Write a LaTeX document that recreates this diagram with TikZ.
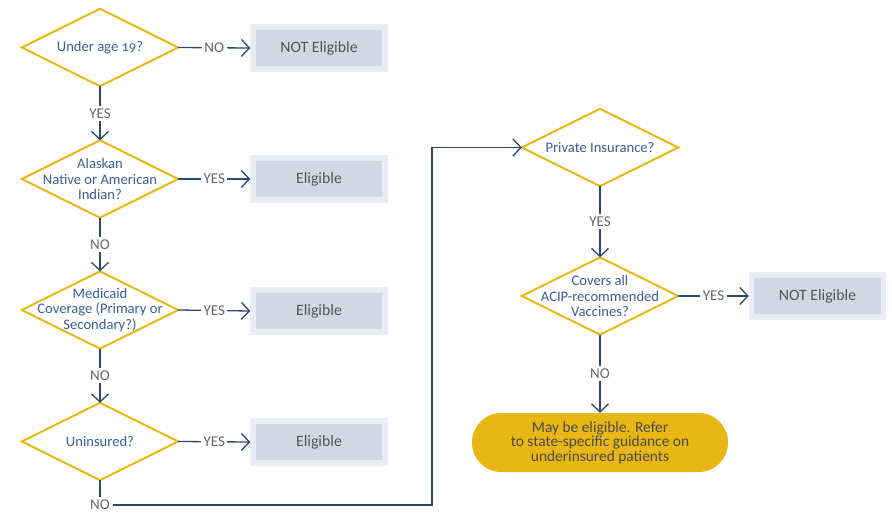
\documentclass[tikz,border=0pt]{standalone}
\usepackage{fontspec}
\setmainfont{Carlito}[Numbers=OldStyle]
\usetikzlibrary{arrows.meta}
\definecolor{gold}{HTML}{E8B714}
\definecolor{navy}{HTML}{2A4870}
\definecolor{qblue}{HTML}{3E5C94}
\definecolor{boxout}{HTML}{E9ECF4}
\definecolor{boxin}{HTML}{D1D8E4}
\definecolor{boxtxt}{HTML}{555555}
\definecolor{labtxt}{HTML}{666666}
\definecolor{pilltxt}{HTML}{4A4A4A}
\tikzset{
  decbox/.style={rectangle, minimum width=156pt, minimum height=77pt, inner sep=0pt,
    align=center, text=qblue, font=\fontsize{14.6}{15.2}\selectfont},
  dia/.style={draw=gold, line width=2pt, line join=miter},
  resbox/.style={rectangle, draw=boxout, fill=boxin, line width=5.5pt,
    minimum width=132pt, minimum height=42pt, text=boxtxt, font=\fontsize{15.8}{17}\selectfont},
  conn/.style={draw=navy, line width=1.3pt, -{Straight Barb[length=8pt,width=17pt,line width=1.3pt]}},
  plain/.style={draw=navy, line width=1.3pt},
  lab/.style={fill=white, text=labtxt, inner sep=2.5pt, font=\fontsize{15}{16}\selectfont},
  pill/.style={rectangle, rounded corners=29pt, fill=gold, minimum width=256pt,
    minimum height=59pt, align=center, text=pilltxt, font=\fontsize{15.4}{14.6}\selectfont, inner sep=0pt}
}
\begin{document}
\begin{tikzpicture}[x=1pt,y=-1pt]
\useasboundingbox (0,0) rectangle (892,512);
% decisions
\node[decbox] (d1) at (100,47.5) {Under age 19?};
\node[decbox] (d2) at (100,179) {Alaskan\\Native or American\\Indian?};
\node[decbox] (d3) at (100,310) {Medicaid\\Coverage (Primary or\\Secondary?)};
\node[decbox] (d4) at (100,441.5) {Uninsured?};
\node[decbox] (d5) at (600,147.5) {Private Insurance?};
\node[decbox] (d6) at (600,296) {Covers all\\ACIP-recommended\\Vaccines?};
\foreach \d in {d1,d2,d3,d4,d5,d6}{
  \draw[dia] (\d.west) -- (\d.north) -- (\d.east) -- (\d.south) -- cycle;
}
% results
\node[resbox] (r1) at (319,48) {NOT Eligible};
\node[resbox] (r2) at (319,179) {Eligible};
\node[resbox] (r3) at (319,311) {Eligible};
\node[resbox] (r4) at (319,442) {Eligible};
\node[resbox] (r5) at (817.5,296) {NOT Eligible};
\node[pill] (p) at (600,442.5) {May be eligible. Refer\\to state-specific guidance on\\underinsured patients};
% connectors
\draw[conn] (d1.east) -- node[lab]{NO} (r1.west);
\draw[conn] (d2.east) -- node[lab]{YES} (r2.west);
\draw[conn] (d3.east) -- node[lab]{YES} (r3.west);
\draw[conn] (d4.east) -- node[lab]{YES} (r4.west);
\draw[conn] (d6.east) -- node[lab]{YES} (r5.west);
\draw[conn] (d1.south) -- node[lab]{YES} (d2.north);
\draw[conn] (d2.south) -- node[lab]{NO} (d3.north);
\draw[conn] (d3.south) -- node[lab]{NO} (d4.north);
\draw[conn] (d5.south) -- node[lab]{YES} (d6.north);
\draw[conn] (d6.south) -- node[lab]{NO} (p.north);
\node[lab] (n4) at (100,505) {NO};
\coordinate (corner) at (432,505);
\draw[plain] (d4.south) -- (n4.north);
\draw[conn] (n4.east) -- (corner) |- (d5.west);
\end{tikzpicture}
\end{document}
